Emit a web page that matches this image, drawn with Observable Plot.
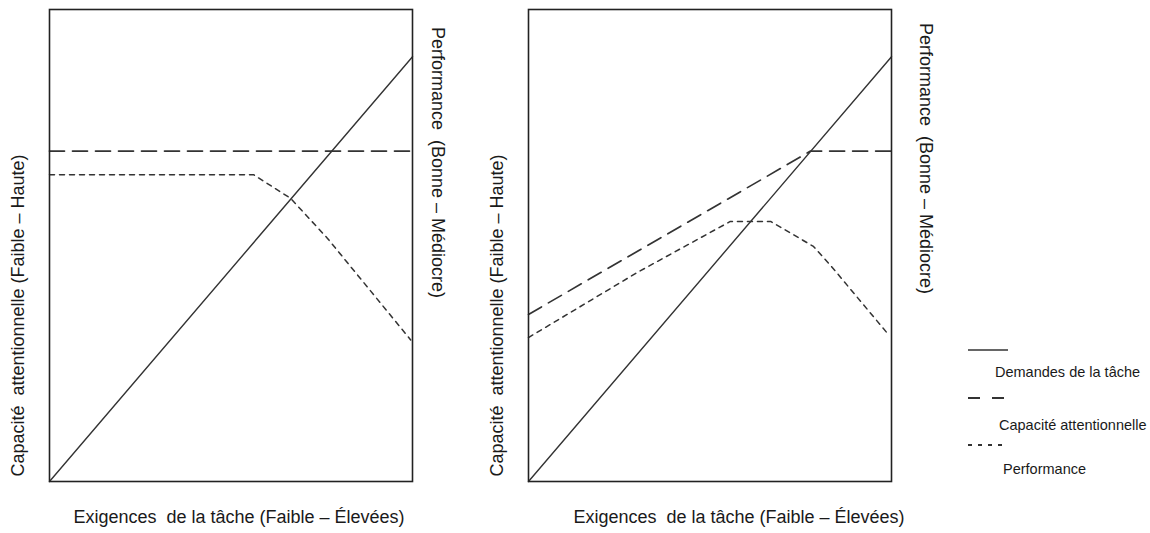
<!DOCTYPE html>
<html>
<head>
<meta charset="utf-8">
<script src="https://cdn.jsdelivr.net/npm/d3@7"></script>
<script src="https://cdn.jsdelivr.net/npm/@observablehq/plot@0.6"></script>
<style>
  html, body { margin: 0; padding: 0; background: #fff; }
  #wrap { position: relative; width: 1150px; height: 533px; font-family: "Liberation Sans", Arial, sans-serif; color: #1a1a1a; }
  #wrap > .panel { position: absolute; top: 0; }
  .leg { position: absolute; font-size: 14.5px; white-space: nowrap; line-height: 1; }
  .sw { position: absolute; }
</style>
</head>
<body>
<div id="wrap"></div>
<script>
// ---- Data ----
const seriesNames = ["Demandes de la tâche", "Capacité attentionnelle", "Performance"];
const xLabel = "Exigences  de la tâche (Faible – Élevées)";
const yLabelLeft = "Capacité  attentionnelle (Faible – Haute)";
const yLabelRight = "Performance  (Bonne – Médiocre)";

// Left panel
const demandesGaucheX = [0, 100];
const demandesGaucheY = [0, 90];
const capaciteGaucheX = [0, 100];
const capaciteGaucheY = [70, 70];
const perfGaucheX = [0, 56.2, 66.4, 76.6, 99.5];
const perfGaucheY = [65, 65, 60, 51.5, 30];

// Right panel
const demandesDroiteX = [0, 100];
const demandesDroiteY = [0, 90];
const capaciteDroiteX = [0, 77.7, 100];
const capaciteDroiteY = [35.4, 70, 70];
const perfDroiteX = [0, 30, 55.6, 66.7, 78.5, 83.2, 99.3];
const perfDroiteY = [30.5, 44.3, 55.1, 55.1, 49.8, 45.8, 31];

// ---- Styles ----
const lineStyles = [
  {dash: null, width: 1.4},
  {dash: "15,8", width: 1.7},
  {dash: "5,5", width: 1.5}
];
const ink = "#333";
const font = "Liberation Sans, Arial, sans-serif";

function toRows(xs, ys) { return xs.map((x, i) => ({x, y: ys[i]})); }

function panel(series, o) {
  return Plot.plot({
    width: 479, height: 533,
    marginLeft: 49, marginRight: 67, marginTop: 9, marginBottom: 52,
    style: {fontFamily: font, background: "transparent"},
    x: {domain: [0, 100], axis: null},
    y: {domain: [0, 100], axis: null},
    marks: [
      ...series.map((s, i) => Plot.line(s, {
        x: "x", y: "y", stroke: ink,
        strokeWidth: lineStyles[i].width,
        strokeDasharray: lineStyles[i].dash
      })),
      Plot.frame({stroke: "#222", strokeWidth: 1.6}),
      Plot.text([xLabel], {text: d => d, frameAnchor: "bottom", textAnchor: "middle", dy: 41, dx: o.xdx, fontSize: 18, fill: "#1a1a1a"}),
      Plot.text([yLabelLeft], {text: d => d, frameAnchor: "left", textAnchor: "middle", dx: o.ldx, dy: 70, rotate: -90, fontSize: 18, fill: "#1a1a1a"}),
      Plot.text([yLabelRight], {text: d => d, frameAnchor: "right", textAnchor: "middle", dx: o.rdx, dy: o.rdy, rotate: 90, fontSize: 18, fill: "#1a1a1a"})
    ]
  });
}

const wrap = document.getElementById("wrap");

const left = panel([
  toRows(demandesGaucheX, demandesGaucheY),
  toRows(capaciteGaucheX, capaciteGaucheY),
  toRows(perfGaucheX, perfGaucheY)
], {xdx: 8, ldx: -31, rdx: 25, rdy: -83});
left.classList.add("panel");
left.style.left = "0px";
wrap.appendChild(left);

const right = panel([
  toRows(demandesDroiteX, demandesDroiteY),
  toRows(capaciteDroiteX, capaciteDroiteY),
  toRows(perfDroiteX, perfDroiteY)
], {xdx: 29, ldx: -31, rdx: 34, rdy: -87});
right.classList.add("panel");
right.style.left = "479px";
wrap.appendChild(right);

// ---- Legend ----
const legendLineY = [350, 398, 445];
const legendTextPos = [{x: 995, y: 373}, {x: 999, y: 426}, {x: 1003, y: 470}];
const legendDash = [null, "12,12", "4,6"];
seriesNames.forEach((name, i) => {
  const ns = "http://www.w3.org/2000/svg";
  const svg = document.createElementNS(ns, "svg");
  svg.setAttribute("width", 44); svg.setAttribute("height", 6);
  svg.setAttribute("class", "sw");
  svg.style.left = "966px"; svg.style.top = (legendLineY[i] - 3) + "px";
  const ln = document.createElementNS(ns, "line");
  ln.setAttribute("x1", 2); ln.setAttribute("x2", 42);
  ln.setAttribute("y1", 3); ln.setAttribute("y2", 3);
  ln.setAttribute("stroke", ink);
  ln.setAttribute("stroke-width", lineStyles[i].width + 0.3);
  if (legendDash[i]) ln.setAttribute("stroke-dasharray", legendDash[i]);
  svg.appendChild(ln);
  wrap.appendChild(svg);
  const t = document.createElement("div");
  t.className = "leg";
  t.textContent = name;
  t.style.left = legendTextPos[i].x + "px";
  t.style.top = (legendTextPos[i].y - 8) + "px";
  wrap.appendChild(t);
});
</script>
</body>
</html>
